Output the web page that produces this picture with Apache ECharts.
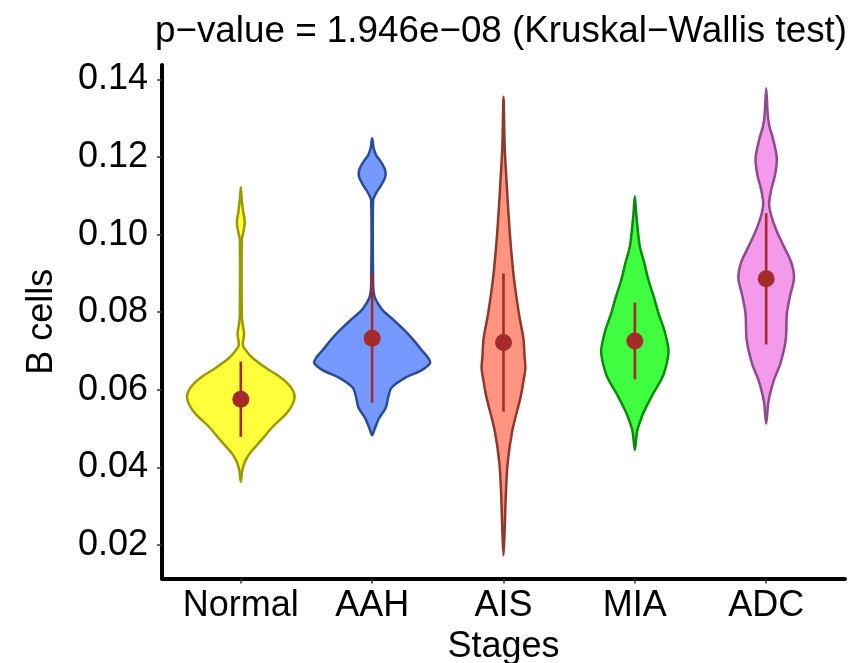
<!DOCTYPE html>
<html>
<head>
<meta charset="utf-8">
<script src="https://cdn.jsdelivr.net/npm/echarts@6/dist/echarts.min.js"></script>
<style>
  html, body { margin: 0; padding: 0; background: #ffffff; }
  #chart { width: 853px; height: 663px; }
</style>
</head>
<body>
<div id="chart"></div>
<script>
// Groups along the x axis
const stages = ['Normal', 'AAH', 'AIS', 'MIA', 'ADC'];

// y-axis tick values
const yTicks = [0.02, 0.04, 0.06, 0.08, 0.10, 0.12, 0.14];

// Mean and standard deviation of B-cell scores per stage
const means = [0.0576, 0.0733, 0.0722, 0.0726, 0.0886];
const sds = [0.0097, 0.0166, 0.0178, 0.0099, 0.0169];

// Kernel density profiles per stage: [B-cell score, relative density], bottom to top
const densityNormal = [
  [0.0363, 0], [0.0393, 0.025], [0.0415, 0.07], [0.0436, 0.15], [0.0471, 0.35],
  [0.0505, 0.54], [0.0539, 0.77], [0.0561, 0.87], [0.0581, 0.91], [0.0599, 0.88],
  [0.0617, 0.79], [0.0636, 0.64], [0.0655, 0.44], [0.0682, 0.2], [0.0702, 0.084],
  [0.0715, 0.034], [0.0745, 0.055], [0.0775, 0.025], [0.0798, 0.017], [0.0986, 0.017],
  [0.1012, 0.05], [0.1033, 0.067], [0.1058, 0.042], [0.1089, 0.017], [0.1122, 0]
];
const densityAAH = [
  [0.0483, 0], [0.0496, 0.034], [0.0518, 0.09], [0.0528, 0.12], [0.0554, 0.23],
  [0.0580, 0.27], [0.0606, 0.33], [0.0632, 0.57], [0.0651, 0.84], [0.0669, 0.98],
  [0.0684, 0.94], [0.0702, 0.84], [0.0728, 0.70], [0.0753, 0.55], [0.0779, 0.37],
  [0.0805, 0.18], [0.0826, 0.084], [0.0844, 0.034], [0.0870, 0.017], [0.1089, 0.017],
  [0.1107, 0.067], [0.1127, 0.15], [0.1148, 0.22], [0.1166, 0.22], [0.1187, 0.15],
  [0.1205, 0.067], [0.1223, 0.025], [0.1248, 0]
];
const densityAIS = [
  [0.0174, 0], [0.0239, 0.02], [0.0324, 0.038], [0.0411, 0.07], [0.0496, 0.15],
  [0.0582, 0.29], [0.0625, 0.34], [0.0655, 0.37], [0.0689, 0.355], [0.0728, 0.34],
  [0.0764, 0.30], [0.0797, 0.26], [0.0883, 0.18], [0.0969, 0.125], [0.1055, 0.084],
  [0.1141, 0.05], [0.1226, 0.02], [0.1355, 0]
];
const densityMIA = [
  [0.0445, 0], [0.0489, 0.034], [0.0505, 0.06], [0.0539, 0.14], [0.0582, 0.28],
  [0.0634, 0.47], [0.0669, 0.54], [0.0702, 0.57], [0.0753, 0.50], [0.0797, 0.40],
  [0.0840, 0.32], [0.0883, 0.23], [0.0927, 0.16], [0.0969, 0.085], [0.1012, 0.05],
  [0.1050, 0.025], [0.1099, 0]
];
const densityADC = [
  [0.0513, 0], [0.0565, 0.034], [0.0591, 0.067], [0.0625, 0.13], [0.0668, 0.24],
  [0.0728, 0.33], [0.0797, 0.35], [0.0840, 0.40], [0.0887, 0.47], [0.0926, 0.43],
  [0.0969, 0.30], [0.1012, 0.17], [0.1050, 0.084], [0.1080, 0.05], [0.1115, 0.084],
  [0.1154, 0.15], [0.1196, 0.18], [0.1244, 0.12], [0.1282, 0.05], [0.1312, 0.025],
  [0.1377, 0]
];
const densities = [densityNormal, densityAAH, densityAIS, densityMIA, densityADC];

// Styling
const FONT = 'Liberation Sans';
const LABEL_SIZE = 36;
const TITLE_SIZE = 36.8;
const HALF_WIDTH = 0.45;            // half violin width at relative density 1, in category units
const fillColors = ['#ffff3c', '#7699ff', '#ff9580', '#40ff40', '#f39aea'];
const strokeColors = ['#9a9a00', '#2a4a9a', '#8c3a2e', '#0a8c0a', '#8e4a8e'];
const MEAN_COLOR = '#a52a2a';

const chart = echarts.init(document.getElementById('chart'), null, { renderer: 'canvas' });

const positions = stages.map((s, i) => i + 1);

chart.setOption({
  animation: false,
  backgroundColor: '#ffffff',
  textStyle: { fontFamily: FONT },
  title: {
    text: 'p\u2212value = 1.946e\u221208 (Kruskal\u2212Wallis test)',
    left: 501,
    top: 13,
    padding: 0,
    textAlign: 'center',
    textStyle: { fontFamily: FONT, fontSize: TITLE_SIZE, fontWeight: 'normal', color: '#000000' }
  },
  grid: { left: 162, right: 8, top: 65, bottom: 84.5, containLabel: false, outerBoundsMode: 'none' },
  xAxis: {
    type: 'value',
    min: 0.4,
    max: 5.6,
    splitLine: { show: false },
    axisLine: { show: true, onZero: false, lineStyle: { color: '#000000', width: 4 } },
    axisTick: { show: true, customValues: positions, length: 5, lineStyle: { color: '#333333', width: 1.5 } },
    axisLabel: {
      customValues: positions,
      formatter: v => stages[Math.round(v) - 1],
      fontFamily: FONT, fontSize: LABEL_SIZE, color: '#000000', margin: 10
    },
    name: 'Stages',
    nameLocation: 'middle',
    nameGap: 50,
    nameTextStyle: { fontFamily: FONT, fontSize: LABEL_SIZE, color: '#000000' }
  },
  yAxis: {
    type: 'value',
    min: 0.0114,
    max: 0.1437,
    splitLine: { show: false },
    axisLine: { show: true, onZero: false, lineStyle: { color: '#000000', width: 4 } },
    axisTick: { show: true, customValues: yTicks, length: 5, lineStyle: { color: '#333333', width: 1.5 } },
    axisLabel: {
      customValues: yTicks,
      formatter: v => v.toFixed(2),
      fontFamily: FONT, fontSize: LABEL_SIZE, color: '#000000', margin: 14
    },
    name: 'B cells',
    nameLocation: 'middle',
    nameGap: 102,
    nameRotate: 90,
    nameTextStyle: { fontFamily: FONT, fontSize: LABEL_SIZE, color: '#000000' }
  },
  series: [
    {
      // Violin outlines built from each stage's density profile
      type: 'custom',
      coordinateSystem: 'cartesian2d',
      silent: true,
      data: positions.map(p => [p, means[p - 1]]),
      encode: { x: 0, y: 1 },
      renderItem: (params, api) => {
        const i = params.dataIndex;
        const x = api.value(0);
        const prof = densities[i];
        const right = prof.map(([v, d]) => api.coord([x + d * HALF_WIDTH, v]));
        const left = prof.slice(1, -1).reverse().map(([v, d]) => api.coord([x - d * HALF_WIDTH, v]));
        return {
          type: 'polygon',
          shape: { points: right.concat(left), smooth: 0.3 },
          style: { fill: fillColors[i], stroke: strokeColors[i], lineWidth: 2.5, lineJoin: 'round' }
        };
      },
      z: 1
    },
    {
      // Mean ± standard deviation bars
      type: 'custom',
      coordinateSystem: 'cartesian2d',
      silent: true,
      data: positions.map((p, i) => [p, means[i], sds[i]]),
      encode: { x: 0, y: 1 },
      renderItem: (params, api) => {
        const x = api.value(0), m = api.value(1), s = api.value(2);
        const lo = api.coord([x, m - s]);
        const hi = api.coord([x, m + s]);
        return {
          type: 'line',
          shape: { x1: lo[0], y1: lo[1], x2: hi[0], y2: hi[1] },
          style: { stroke: MEAN_COLOR, lineWidth: 2.6 }
        };
      },
      z: 2
    },
    {
      // Group means
      type: 'scatter',
      silent: true,
      data: positions.map((p, i) => [p, means[i]]),
      symbol: 'circle',
      symbolSize: 17,
      itemStyle: { color: MEAN_COLOR, opacity: 1 },
      z: 3
    }
  ]
});
</script>
</body>
</html>
